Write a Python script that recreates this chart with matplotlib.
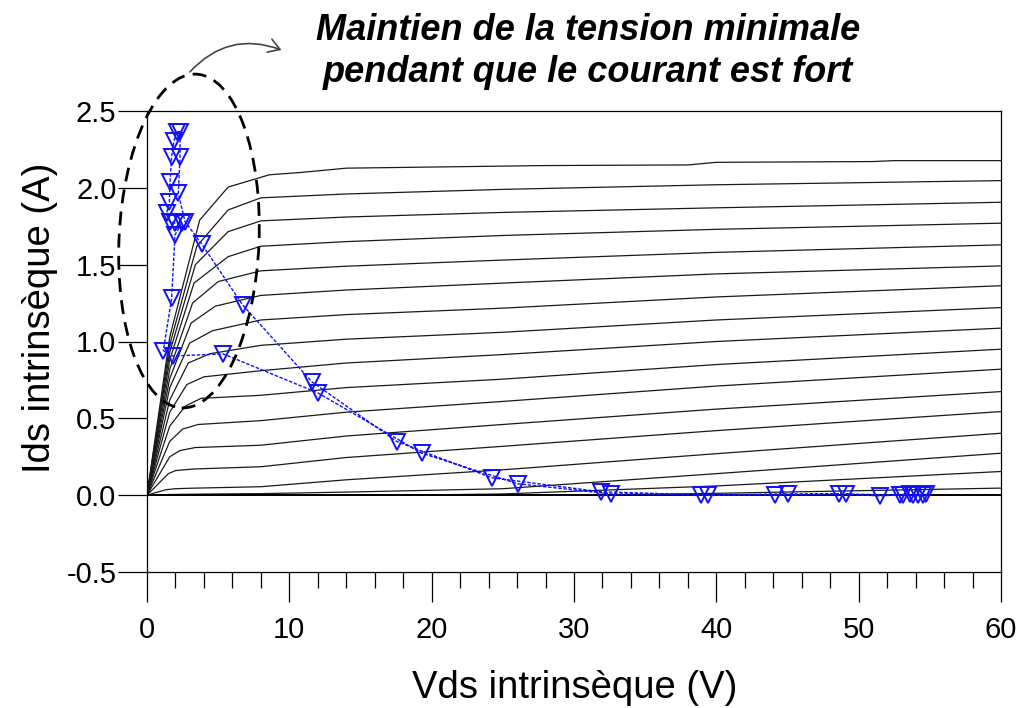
import matplotlib
matplotlib.use("Agg")
import matplotlib.pyplot as plt
from matplotlib.patches import Ellipse, FancyArrowPatch
from matplotlib.transforms import IdentityTransform
from matplotlib.ticker import MultipleLocator

plt.rcParams['font.family'] = ['Liberation Sans', 'DejaVu Sans']

# ---------------- data ----------------
# static I-V family: Vds points (V) and Ids (A) for each gate-voltage curve, top to bottom
vds_curves = [
    [0, 1.6, 3.7, 5.7, 8.6, 10.8, 14, 28, 38, 40, 51, 52.5, 60],
    [0, 1.6, 3.5, 5.7, 8, 14, 25, 40, 60],
    [0, 1.6, 3.4, 5.7, 8, 14, 25, 40, 60],
    [0, 1.6, 3.3, 5.7, 8, 14, 25, 40, 60],
    [0, 1.6, 3.2, 5.0, 8, 14, 25, 40, 60],
    [0, 1.6, 3.1, 4.8, 8, 14, 25, 40, 60],
    [0, 1.6, 3.0, 4.6, 8, 14, 25, 40, 60],
    [0, 1.6, 2.9, 4.4, 8, 14, 25, 40, 60],
    [0, 1.6, 2.8, 4.0, 8, 14, 25, 40, 60],
    [0, 1.6, 2.7, 3.8, 8, 14, 25, 40, 60],
    [0, 1.6, 2.5, 3.6, 8, 14, 25, 40, 60],
    [0, 1.6, 2.3, 3.4, 8, 14, 25, 40, 60],
    [0, 1.5, 2.0, 3.2, 8, 14, 25, 40, 60],
    [0, 1.3, 2.0, 3.0, 8, 14, 25, 40, 60],
    [0, 1.5, 3.0, 5.0, 8, 14, 25, 40, 60],
    [0, 8, 14, 20, 25, 40, 60],
    [0, 14, 25, 33, 40, 60],
]
ids_curves = [
    [0, 1.03, 1.79, 2.005, 2.085, 2.100, 2.128, 2.145, 2.149, 2.166, 2.171, 2.177, 2.177],
    [0, 0.98, 1.62, 1.856, 1.935, 1.960, 1.990, 2.020, 2.047],
    [0, 0.93, 1.50, 1.715, 1.785, 1.810, 1.840, 1.870, 1.906],
    [0, 0.88, 1.38, 1.552, 1.620, 1.650, 1.690, 1.730, 1.770],
    [0, 0.82, 1.25, 1.390, 1.460, 1.490, 1.530, 1.580, 1.629],
    [0, 0.76, 1.12, 1.230, 1.300, 1.335, 1.380, 1.440, 1.492],
    [0, 0.70, 0.99, 1.070, 1.140, 1.175, 1.217, 1.290, 1.363],
    [0, 0.62, 0.86, 0.920, 0.975, 1.015, 1.060, 1.140, 1.221],
    [0, 0.54, 0.72, 0.770, 0.810, 0.860, 0.915, 1.000, 1.087],
    [0, 0.45, 0.58, 0.630, 0.650, 0.700, 0.755, 0.850, 0.950],
    [0, 0.35, 0.43, 0.460, 0.485, 0.540, 0.610, 0.710, 0.820],
    [0, 0.25, 0.29, 0.310, 0.325, 0.385, 0.460, 0.560, 0.674],
    [0, 0.14, 0.16, 0.170, 0.185, 0.245, 0.318, 0.420, 0.544],
    [0, 0.035, 0.042, 0.045, 0.055, 0.100, 0.165, 0.270, 0.403],
    [0, 0.004, 0.006, 0.008, 0.010, 0.020, 0.042, 0.140, 0.273],
    [0, 0.0, 0.0, 0.002, 0.008, 0.060, 0.154],
    [0, 0.0, 0.0, 0.002, 0.012, 0.046],
]

# dynamic load cycle (Vds, Ids)
cycle_vds = [54.7, 54.2, 53.6, 53.1, 51.5, 48.6, 44.1, 38.9, 31.9, 24.24, 17.55,
             11.57, 6.72, 3.84, 2.67, 2.20, 2.32, 2.32,
             2.08, 1.90, 1.73, 1.62, 1.57, 1.38, 1.62, 1.97, 2.44, 1.97, 1.73,
             1.15, 1.80, 5.36, 12.04, 19.3, 26.07, 32.6, 39.4, 45.0, 49.1,
             52.9, 53.8, 54.5]
cycle_ids = [0.005, 0.003, 0.006, 0.004, -0.005, 0.008, 0.0, 0.002, 0.022, 0.113, 0.349,
             0.739, 1.238, 1.635, 1.78, 1.965, 2.203, 2.366,
             2.366, 2.307, 2.203, 2.04, 1.91, 1.835, 1.78, 1.77, 1.77, 1.694, 1.282,
             0.941, 0.906, 0.919, 0.664, 0.273, 0.074, 0.008, 0.002, 0.008, 0.008,
             0.0, 0.0, 0.0]

x_ticks = [0, 10, 20, 30, 40, 50, 60]
y_ticks = [-0.5, 0.0, 0.5, 1.0, 1.5, 2.0, 2.5]

title_lines = ["Maintien de la tension minimale", "pendant que le courant est fort"]

# ---------------- figure ----------------
W, H = 1027, 708
fig = plt.figure(figsize=(W / 100, H / 100), dpi=100)
L, R, T, B = 147, 1001, 111, 572
ax = fig.add_axes([L / W, (H - B) / H, (R - L) / W, (B - T) / H])

for vds, ids in zip(vds_curves, ids_curves):
    ax.plot(vds, ids, color='#1a1a1a', lw=0.9)

ax.axhline(0, color='black', lw=1.4, zorder=3)

ax.plot(cycle_vds, cycle_ids, color='#1010ff', lw=1.0, ls=(0, (2.5, 1.2)),
        marker='v', markersize=11, markerfacecolor='none',
        markeredgecolor='#1010ff', markeredgewidth=1.4, zorder=4)

ax.set_xlim(0, 60)
ax.set_ylim(-0.5, 2.5)
ax.set_xticks(x_ticks)
ax.set_yticks(y_ticks)
ax.set_yticklabels([f"{v:.1f}" for v in y_ticks])
ax.xaxis.set_minor_locator(MultipleLocator(2))
ax.tick_params(axis='y', which='major', direction='out', length=21, width=0.9,
               labelsize=21, pad=1)
ax.tick_params(axis='x', which='major', direction='out', length=21.5, width=0.9,
               labelsize=21, pad=10)
ax.tick_params(axis='x', which='minor', direction='out', length=11.5, width=0.9)
for s in ax.spines.values():
    s.set_linewidth(0.9)

ax.set_xlabel("Vds intrinsèque (V)", fontsize=27.5, va='center', ha='center')
ax.xaxis.set_label_coords((575 - L) / (R - L), (B - 688) / (B - T))
ax.set_ylabel("Ids intrinsèque (A)", fontsize=27.5, va='center', ha='center')
ax.yaxis.set_label_coords((40 - L) / (R - L), (B - 318) / (B - T))

# annotation: dashed ellipse + arrow + text
ell = Ellipse((189, H - 241), width=140, height=334, angle=-2.5,
              transform=IdentityTransform(), fill=False, edgecolor='black',
              lw=2.0, ls=(0, (5, 3)), clip_on=False)
fig.add_artist(ell)
arr = FancyArrowPatch((188, H - 74), (284, H - 51), transform=IdentityTransform(),
                      connectionstyle="arc3,rad=-0.35", arrowstyle='->,head_length=8,head_width=5',
                      color='#444444', lw=1.2)
fig.add_artist(arr)

fig.text(588 / W, 1 - 31 / H, title_lines[0], ha='center', va='center',
         fontsize=26, fontweight='bold', fontstyle='italic')
fig.text(588 / W, 1 - 73 / H, title_lines[1], ha='center', va='center',
         fontsize=26, fontweight='bold', fontstyle='italic')

fig.savefig("out.png", dpi=100)
